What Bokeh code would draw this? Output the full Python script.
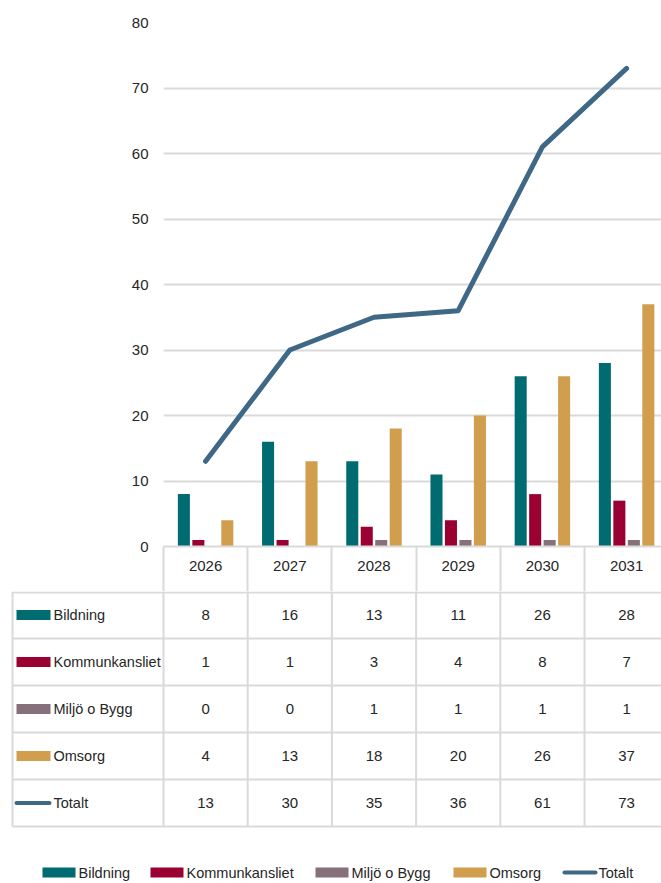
import numpy as np
from bokeh.plotting import figure
from bokeh.models import Range1d, FixedTicker
from bokeh.core.properties import value
from bokeh.embed import file_html
from bokeh.resources import INLINE

# ---- data ----
years = ["2026", "2027", "2028", "2029", "2030", "2031"]
series_names = ["Bildning", "Kommunkansliet", "Miljö o Bygg", "Omsorg"]
bildning = [8, 16, 13, 11, 26, 28]
kommunkansliet = [1, 1, 3, 4, 8, 7]
miljo_o_bygg = [0, 0, 1, 1, 1, 1]
omsorg = [4, 13, 18, 20, 26, 37]
totalt = [13, 30, 35, 36, 61, 73]
y_ticks = [0, 10, 20, 30, 40, 50, 60, 70, 80]

colors = ["#006B70", "#9B0032", "#86707A", "#D19E4E"]
line_color = "#3E6885"
grid_color = "#DADADA"
text_color = "#262626"
FONT = "Liberation Sans"
FS = "15px"
FS_LAB = "14.5px"

series_vals = [bildning, kommunkansliet, miljo_o_bygg, omsorg]

# ---- geometry ----
W = 661
COL = 84.2            # px per category column
LEFT = 163            # frame left offset
HDR = 45              # header row height (x-axis area)
x_right = (W - LEFT) / COL
centers = np.arange(len(years)) + 0.5

# ---- chart figure (incl. year header row as x axis) ----
p = figure(width=W, height=591, output_backend="svg", toolbar_location=None,
           x_range=Range1d(0, x_right), y_range=Range1d(0, 80),
           min_border_left=LEFT, min_border_right=0,
           min_border_top=22, min_border_bottom=HDR)
p.outline_line_color = None
p.xgrid.grid_line_color = None
p.ygrid.grid_line_color = grid_color
p.ygrid.grid_line_width = 2

p.yaxis.ticker = FixedTicker(ticks=y_ticks)
p.yaxis.axis_line_color = None
p.yaxis.major_tick_line_color = None
p.yaxis.minor_tick_line_color = None
p.yaxis.major_tick_out = 0
p.yaxis.major_label_standoff = 15
p.yaxis.major_label_text_font = FONT
p.yaxis.major_label_text_font_size = FS
p.yaxis.major_label_text_color = text_color

p.xaxis.ticker = FixedTicker(ticks=list(centers), minor_ticks=list(range(len(years) + 1)))
p.xaxis.major_label_overrides = {float(c): y for c, y in zip(centers, years)}
p.xaxis.axis_line_color = grid_color
p.xaxis.axis_line_width = 2
p.xaxis.major_tick_line_color = None
p.xaxis.major_tick_out = 0
p.xaxis.major_tick_in = 0
p.xaxis.minor_tick_line_color = grid_color
p.xaxis.minor_tick_line_width = 2
p.xaxis.minor_tick_out = HDR
p.xaxis.minor_tick_in = 0
p.xaxis.major_label_standoff = 14 - HDR
p.xaxis.major_label_text_font = FONT
p.xaxis.major_label_text_font_size = FS
p.xaxis.major_label_text_color = text_color

slot = 0.172
bw = 0.143
for k, (name, vals) in enumerate(zip(series_names, series_vals)):
    off = (k - 1.5) * slot
    p.vbar(x=centers + off, top=vals, bottom=0, width=bw,
           fill_color=colors[k], line_color=None)

p.line(x=centers, y=totalt, line_color=line_color, line_width=5,
       line_join="round", line_cap="round")

# ---- table figure ----
H2 = 883 - 591
t = figure(width=W, height=H2, output_backend="svg", toolbar_location=None,
           x_range=Range1d(-LEFT / COL, x_right), y_range=Range1d(H2, 0),
           x_axis_location=None, y_axis_location=None,
           min_border_left=0, min_border_right=0, min_border_top=0, min_border_bottom=0)
t.outline_line_color = None
t.grid.visible = False


def px(xpage):
    return (xpage - LEFT) / COL


ROW = 47
table_left = px(12)
n_rows = 5
row_lines = [ROW * r for r in range(n_rows + 1)]
row_lines[0] = 1

xs0, ys0, xs1, ys1 = [], [], [], []
for yb in row_lines:
    xs0.append(table_left); ys0.append(yb); xs1.append(x_right); ys1.append(yb)
xs0.append(table_left); ys0.append(0); xs1.append(table_left); ys1.append(row_lines[-1])
for i in range(len(years) + 1):
    xs0.append(i); ys0.append(0); xs1.append(i); ys1.append(row_lines[-1])
t.segment(x0=xs0, y0=ys0, x1=xs1, y1=ys1, line_color=grid_color, line_width=2)

row_names = series_names + ["Totalt"]
row_vals = series_vals + [totalt]
for r, (name, vals) in enumerate(zip(row_names, row_vals)):
    yc = ROW * r + ROW / 2
    t.text(x=centers, y=[yc] * len(years), text=[str(v) for v in vals],
           text_align="center", text_baseline="middle", text_font=value(FONT),
           text_font_size=FS, text_color=text_color)
    t.text(x=[px(53)], y=[yc], text=[name], text_align="left", text_baseline="middle",
           text_font=value(FONT), text_font_size=FS_LAB, text_color=text_color)
    if r < 4:
        t.quad(left=[px(16)], right=[px(50)], top=[yc - 5], bottom=[yc + 5],
               fill_color=colors[r], line_color=None)
    else:
        t.segment(x0=[px(16)], y0=[yc], x1=[px(49)], y1=[yc], line_color=line_color,
                  line_width=4, line_cap="round")

# bottom legend
leg_y = 281
sw_left = [42, 150, 315, 453]
for k, name in enumerate(series_names):
    t.quad(left=[px(sw_left[k])], right=[px(sw_left[k] + 33)], top=[leg_y - 5],
           bottom=[leg_y + 5], fill_color=colors[k], line_color=None)
    t.text(x=[px(sw_left[k] + 36)], y=[leg_y], text=[name], text_align="left",
           text_baseline="middle", text_font=value(FONT), text_font_size=FS_LAB,
           text_color=text_color)
t.segment(x0=[px(564)], y0=[leg_y], x1=[px(595)], y1=[leg_y], line_color=line_color,
          line_width=4, line_cap="round")
t.text(x=[px(598)], y=[leg_y], text=["Totalt"], text_align="left", text_baseline="middle",
       text_font=value(FONT), text_font_size=FS_LAB, text_color=text_color)

open("out.html", "w").write(file_html([p, t], INLINE))
